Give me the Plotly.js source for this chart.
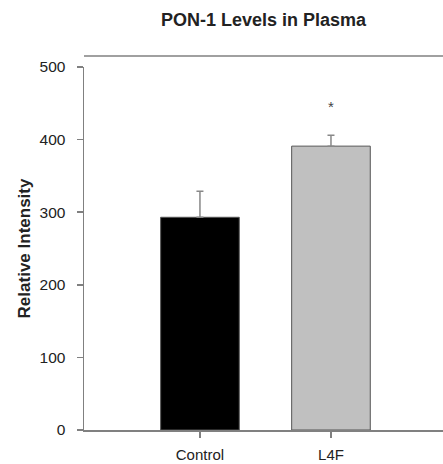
<!DOCTYPE html>
<html>
<head>
<meta charset="utf-8">
<script src="https://cdn.plot.ly/plotly-3.0.1.min.js"></script>
<style>html,body{margin:0;padding:0;background:#fff;}#chart{width:443px;height:464px;}</style>
</head>
<body>
<div id="chart"></div>
<script>
var categories = ["Control", "L4F"];
var values = [293, 391];
var errorsUp = [36, 15];
var barColors = ["#000000", "#c0c0c0"];
var significance = ["", "*"];
var sigY = [null, 445];
var yTickVals = [0, 100, 200, 300, 400, 500];

var font = "Liberation Sans, Arial, sans-serif";

var trace = {
  type: "bar",
  x: categories,
  y: values,
  width: 0.6,
  marker: {color: barColors, line: {color: "#555555", width: 1}},
  error_y: {type: "data", symmetric: false, array: errorsUp, arrayminus: [0, 0],
            color: "#888888", thickness: 1.5, width: 3.5},
  hoverinfo: "none"
};

var annotations = [];
for (var i = 0; i < categories.length; i++) {
  if (significance[i]) {
    annotations.push({x: categories[i], y: sigY[i], xref: "x", yref: "y", text: significance[i],
      showarrow: false, font: {family: font, size: 15, color: "#444"}});
  }
}

var layout = {
  width: 443, height: 464,
  margin: {l: 84, r: 0, t: 67, b: 34},
  paper_bgcolor: "#fff", plot_bgcolor: "#fff",
  showlegend: false,
  title: {text: "<b>PON-1 Levels in Plasma</b>", font: {family: font, size: 18, color: "#222"},
          xref: "paper", x: 0.5, xanchor: "center", yref: "container", y: 1 - 20/464, yanchor: "middle"},
  xaxis: {range: [-0.885, 1.855], showgrid: false, zeroline: false, showline: true,
          linecolor: "#808080", linewidth: 1.5, ticks: "outside", ticklen: 6, tickcolor: "#808080",
          tickwidth: 1.5, ticklabelstandoff: 4,
          tickfont: {family: font, size: 15, color: "#222"}, fixedrange: true},
  yaxis: {range: [0, 500], tickvals: yTickVals, showgrid: false, zeroline: false, showline: true,
          linecolor: "#808080", linewidth: 1.5, ticks: "outside", ticklen: 6, tickcolor: "#808080",
          tickwidth: 1.5, ticklabelstandoff: 8,
          tickfont: {family: font, size: 15.5, color: "#222"},
          title: {text: "<b>Relative Intensity</b>", font: {family: font, size: 17, color: "#222"}, standoff: 4},
          fixedrange: true},
  shapes: [{type: "line", xref: "paper", yref: "paper", x0: 0, x1: 1, y0: 1 + 11/363, y1: 1 + 11/363,
            line: {color: "#808080", width: 1.5}}],
  annotations: annotations
};

Plotly.newPlot("chart", [trace], layout, {displayModeBar: false, staticPlot: true});
</script>
</body>
</html>
